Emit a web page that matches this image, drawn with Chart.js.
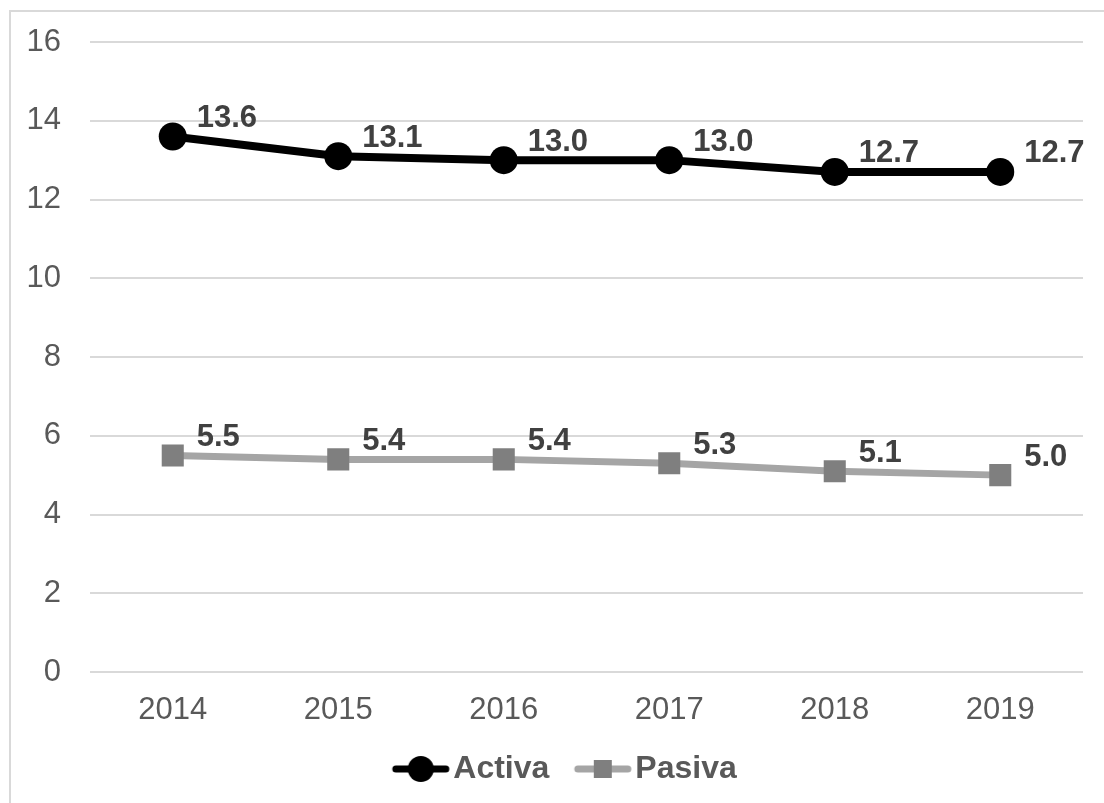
<!DOCTYPE html>
<html>
<head>
<meta charset="utf-8">
<script src="https://cdn.jsdelivr.net/npm/chart.js@4/dist/chart.umd.min.js"></script>
<style>
  html, body { margin: 0; padding: 0; background: #fff; overflow: hidden; }
  #frame { position: absolute; left: 9px; top: 10px; width: 1200px; height: 900px; border: 2px solid #d9d9d9; }
  #wrap { position: absolute; left: 0; top: 0; width: 1104px; height: 803px; }
</style>
</head>
<body>
<div id="frame"></div>
<div id="wrap"><canvas id="Chart1" width="1104" height="803"></canvas></div>
<script>
var years = ["2014", "2015", "2016", "2017", "2018", "2019"];
var activa = [13.6, 13.1, 13.0, 13.0, 12.7, 12.7];
var pasiva = [5.5, 5.4, 5.4, 5.3, 5.1, 5.0];
var yTicks = [0, 2, 4, 6, 8, 10, 12, 14, 16];

var FONT = "'Liberation Sans', Arial, sans-serif";

// legend swatch: a short line with the marker on it, kept to the right of a transparent margin
function legendSwatch(lineColor, markerColor, shape) {
    var c = document.createElement('canvas');
    c.width = 90;
    c.height = 30;
    var g = c.getContext('2d');
    g.strokeStyle = lineColor;
    g.lineWidth = 7;
    g.lineCap = 'round';
    g.beginPath();
    g.moveTo(35, 15);
    g.lineTo(85, 15);
    g.stroke();
    g.fillStyle = markerColor;
    if (shape == 'circle') {
        g.beginPath();
        g.arc(60, 15, 13, 0, Math.PI * 2);
        g.fill();
    } else {
        g.fillRect(51, 6, 18, 18);
    }
    return c;
}

// value labels to the upper right of each point
var valueLabels = {
    id: 'valueLabels',
    afterDatasetsDraw: function (chart) {
        var ctx = chart.ctx;
        ctx.save();
        ctx.font = 'bold 31px ' + FONT;
        ctx.fillStyle = '#404040';
        ctx.textAlign = 'left';
        ctx.textBaseline = 'middle';
        chart.data.datasets.forEach(function (ds, i) {
            chart.getDatasetMeta(i).data.forEach(function (pt, j) {
                ctx.fillText(ds.data[j].toFixed(1), pt.x + 24, pt.y - 18);
            });
        });
        ctx.restore();
    }
};

function renderChart(id_chart) {
    var ctx = document.getElementById(id_chart).getContext('2d');
    var myChart = new Chart(ctx, {
        type: 'line',
        data: {
            labels: years,
            datasets: [{
                label: 'Activa',
                data: activa,
                borderColor: '#000000',
                backgroundColor: '#000000',
                borderWidth: 8,
                pointStyle: 'circle',
                pointRadius: 14,
                pointBorderWidth: 0,
                pointBackgroundColor: '#000000',
                tension: 0
            }, {
                label: 'Pasiva',
                data: pasiva,
                borderColor: '#a5a5a5',
                backgroundColor: '#7f7f7f',
                borderWidth: 7,
                pointStyle: 'rect',
                pointRadius: 15.6,
                pointBorderWidth: 0,
                pointBackgroundColor: '#7f7f7f',
                tension: 0
            }]
        },
        options: {
            responsive: false,
            animation: false,
            layout: { padding: { left: 28, right: 21, top: 42, bottom: 8 } },
            scales: {
                x: {
                    offset: true,
                    grid: { display: false, drawTicks: false },
                    border: { display: false },
                    ticks: {
                        color: '#595959',
                        font: { family: FONT, size: 31, lineHeight: '60px' },
                        padding: 8,
                        maxRotation: 0
                    },
                    afterFit: function (axis) { axis.height = 74; }
                },
                y: {
                    min: 0,
                    max: 16,
                    afterBuildTicks: function (axis) {
                        axis.ticks = yTicks.map(function (v) { return { value: v }; });
                    },
                    // invisible tick marks keep the labels away from the plot
                    grid: { color: '#d9d9d9', lineWidth: 2, drawTicks: true, tickLength: 29, tickColor: 'rgba(0,0,0,0)' },
                    border: { display: false },
                    ticks: {
                        color: '#595959',
                        font: { family: FONT, size: 31 },
                        padding: 0
                    },
                    afterFit: function (axis) { axis.width = 62; }
                }
            },
            plugins: {
                legend: {
                    position: 'bottom',
                    labels: {
                        usePointStyle: true,
                        pointStyleWidth: 63,
                        padding: 7,
                        color: '#595959',
                        font: { family: FONT, size: 32, weight: 'bold' },
                        generateLabels: function (chart) {
                            return [
                                { text: 'Activa', pointStyle: legendSwatch('#000000', '#000000', 'circle'), fontColor: '#595959', lineWidth: 0, strokeStyle: 'rgba(0,0,0,0)', fillStyle: 'rgba(0,0,0,0)', datasetIndex: 0 },
                                { text: 'Pasiva', pointStyle: legendSwatch('#a5a5a5', '#7f7f7f', 'rect'), fontColor: '#595959', lineWidth: 0, strokeStyle: 'rgba(0,0,0,0)', fillStyle: 'rgba(0,0,0,0)', datasetIndex: 1 }
                            ];
                        }
                    }
                },
                tooltip: { enabled: false }
            }
        },
        plugins: [valueLabels]
    });
}

renderChart('Chart1');
</script>
</body>
</html>
